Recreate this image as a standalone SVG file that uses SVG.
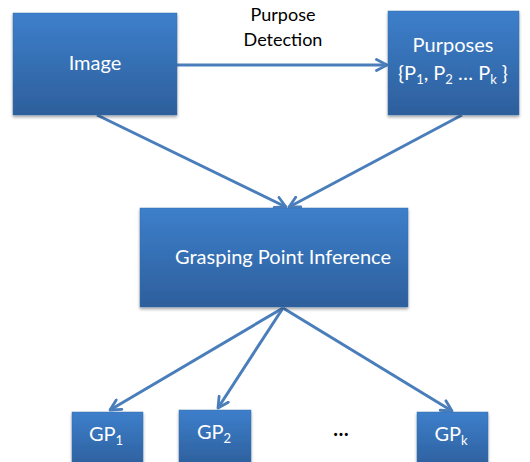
<svg xmlns="http://www.w3.org/2000/svg" width="530" height="462" viewBox="0 0 530 462">
<defs>
<linearGradient id="g" x1="0" y1="0" x2="0" y2="1">
<stop offset="0" stop-color="#3d7fcb"/>
<stop offset="1" stop-color="#2d5f9c"/>
</linearGradient>
<filter id="sh" x="-10%" y="-10%" width="120%" height="130%">
<feDropShadow dx="0" dy="2" stdDeviation="1.5" flood-color="#000" flood-opacity="0.35"/>
</filter>
<marker id="ah" viewBox="0 0 14 14" refX="12" refY="7" markerWidth="14" markerHeight="14" markerUnits="userSpaceOnUse" orient="auto">
<path d="M1.5,1.5 L12,7 L1.5,12.5" fill="none" stroke="#4a7ebb" stroke-width="2.8" stroke-linecap="round" stroke-linejoin="round"/>
</marker>
<style>
.box{fill:url(#g);stroke:#3a6ea8;stroke-width:0.5;filter:url(#sh)}
.t{font-family:Lato,"Open Sans",sans-serif;fill:#fff;text-anchor:middle;font-size:20px}
.c{stroke:#4a7ebb;stroke-width:3;fill:none;marker-end:url(#ah)}
.lbl{font-family:Lato,"Open Sans",sans-serif;fill:#000;text-anchor:middle;font-size:18px}
</style>
</defs>
<g id="connectors">
<line class="c" x1="177" y1="65" x2="387" y2="65"/>
<line class="c" x1="97" y1="115" x2="286" y2="207"/>
<line class="c" x1="462" y1="115" x2="289" y2="207"/>
<line class="c" x1="283" y1="308" x2="110" y2="410"/>
<line class="c" x1="283" y1="308" x2="218" y2="408"/>
<line class="c" x1="283" y1="308" x2="452" y2="411"/>
</g>
<g id="label-purpose-detection">
<text class="lbl" x="283" y="21">Purpose</text>
<text class="lbl" x="283" y="46">Detection</text>
</g>
<g id="node-image">
<rect class="box" x="13" y="13" width="164" height="102"/>
<text class="t" x="95" y="70">Image</text>
</g>
<g id="node-purposes">
<rect class="box" x="388" y="11" width="131" height="104"/>
<text class="t" x="453" y="52">Purposes</text>
<text class="t" x="453" y="80">{P<tspan font-size="13" dy="4">1</tspan><tspan dy="-4">, P</tspan><tspan font-size="13" dy="4">2</tspan><tspan dy="-4"> … P</tspan><tspan font-size="13" dy="4">k</tspan><tspan dy="-4"> }</tspan></text>
</g>
<g id="node-gpi">
<rect class="box" x="140" y="208" width="268" height="99"/>
<text class="t" x="283" y="264">Grasping Point Inference</text>
</g>
<g id="node-gp1">
<rect class="box" x="72" y="412" width="71" height="56"/>
<text class="t" x="106" y="441">GP<tspan font-size="13" dy="4">1</tspan></text>
</g>
<g id="node-gp2">
<rect class="box" x="179" y="410" width="72" height="56"/>
<text class="t" x="214" y="439">GP<tspan font-size="13" dy="4">2</tspan></text>
</g>
<g id="node-gpk">
<rect class="box" x="417" y="412" width="71" height="56"/>
<text class="t" x="451" y="441">GP<tspan font-size="13" dy="4">k</tspan></text>
</g>
<g id="dots">
<text x="341" y="436" font-family="Lato,sans-serif" font-size="20" font-weight="bold" text-anchor="middle" fill="#000">…</text>
</g>
</svg>
